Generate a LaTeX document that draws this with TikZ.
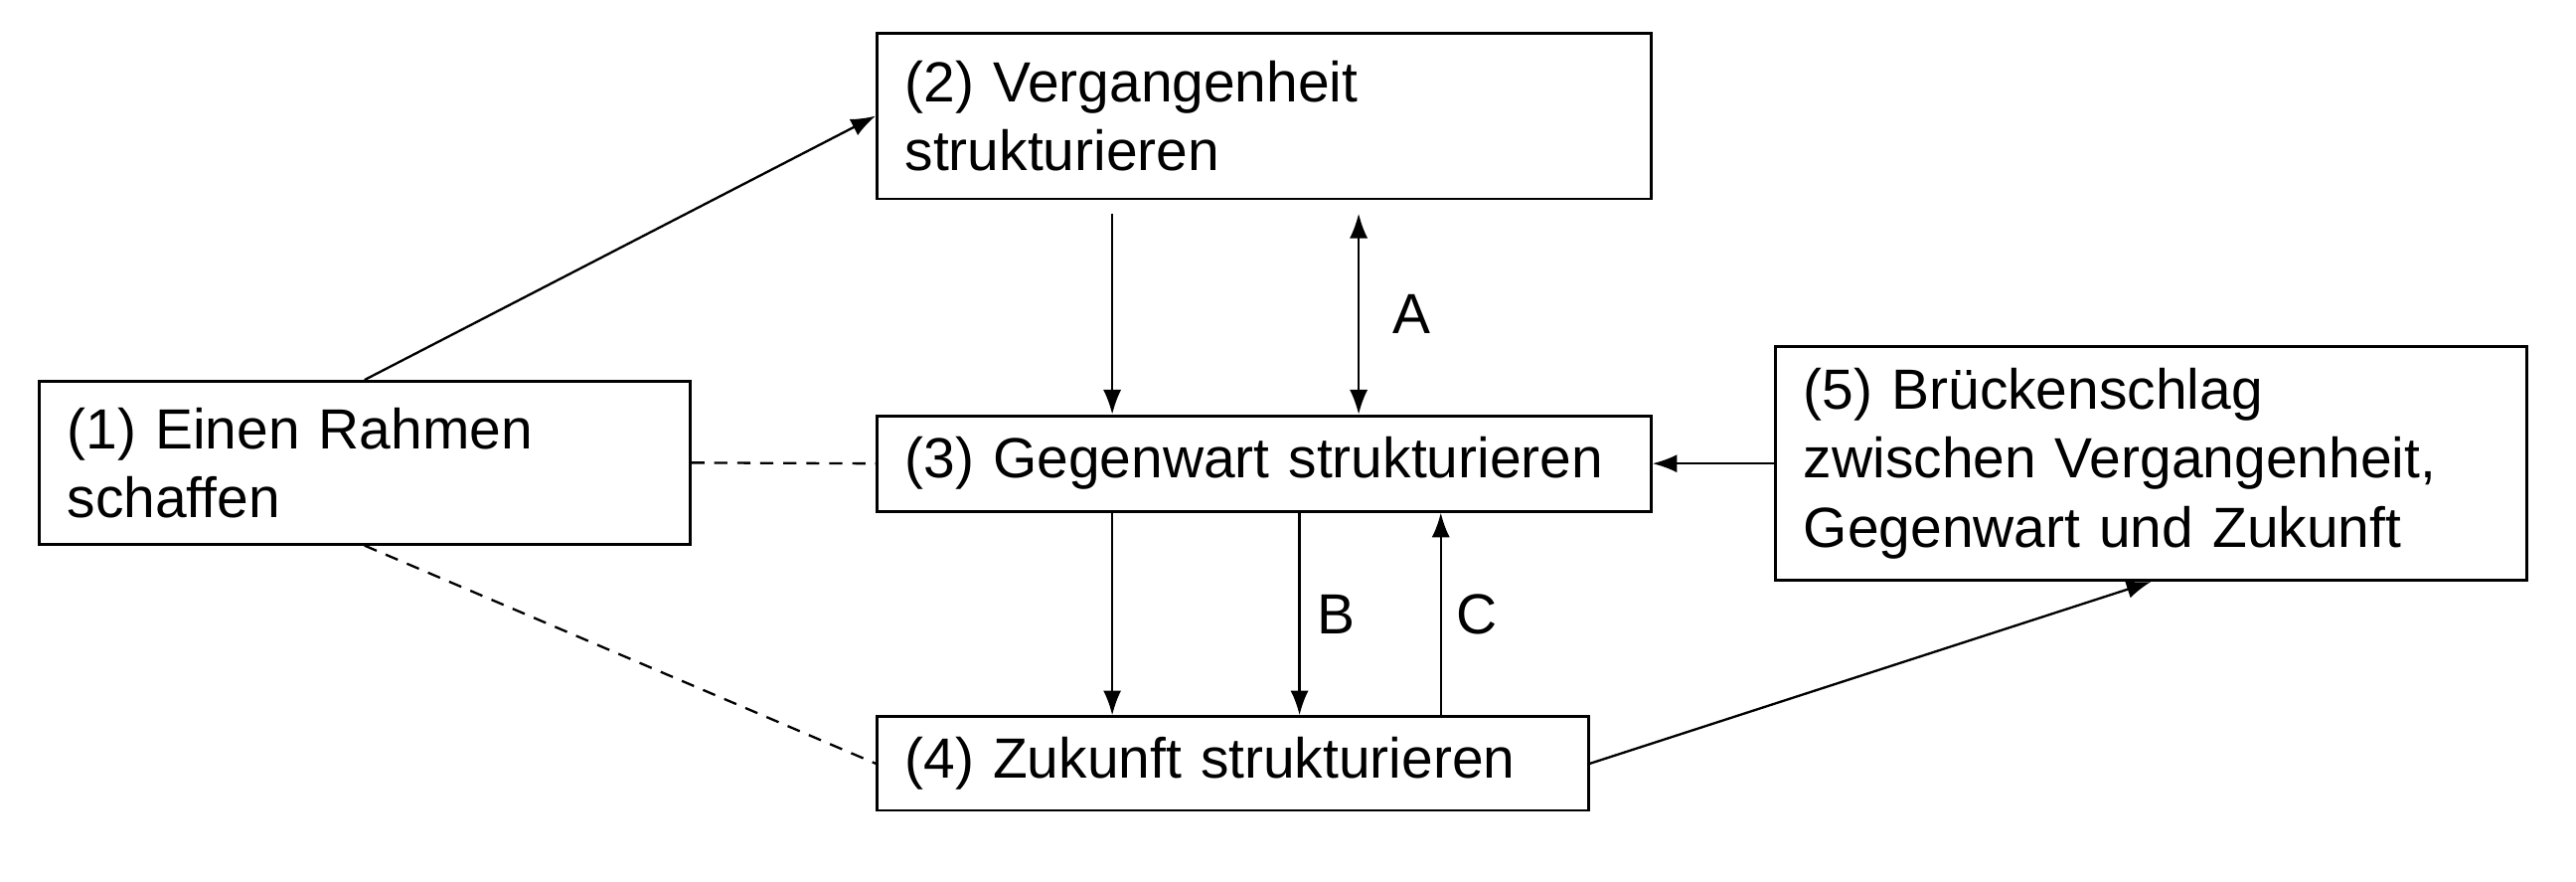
\documentclass[tikz,border=0pt]{standalone}
\usepackage{fontspec}
\setmainfont{Liberation Sans}
\usetikzlibrary{shapes,arrows.meta,positioning}
\def \gap {0.08cm}

\begin{document}
\begin{tikzpicture}[>={Latex[length=1.5mm,width=1.1mm]},
    box/.style={draw,rectangle,line width=0.5pt,anchor=west,align=left,inner xsep=0.17cm,inner ysep=0pt,
      font=\fontsize{9.8}{11.9}\selectfont},
    con/.style={line width=0.4pt},
    lbl/.style={inner sep=0pt,font=\fontsize{9.8}{11.9}\selectfont}]
    \useasboundingbox (0,0) rectangle (15.68,5.36);
    \node[box,text width=3.62cm,minimum height=0.99cm] (rahmen) at (0.23,2.545) {(1) Einen Rahmen\\schaffen};
    \node[box,text width=4.37cm,minimum height=1.01cm] (verg) at (5.33,4.655) {(2) Vergangenheit\\strukturieren};
    \node[box,text width=4.37cm,minimum height=0.58cm] (gegen) at (5.33,2.54) {(3) Gegenwart strukturieren};
    \node[box,text width=3.99cm,minimum height=0.57cm] (zuk) at (5.33,0.715) {(4) Zukunft strukturieren};
    \node[box,text width=4.23cm,minimum height=1.42cm] (bruecke) at (10.80,2.54) {(5) Brückenschlag\\zwischen Vergangenheit,\\Gegenwart und Zukunft};
    \draw[con,->] (rahmen.north) -- (verg.west);
    \draw[con,->] ([xshift=1.44cm,yshift=-\gap]verg.south west) -- ([xshift=1.44cm]gegen.north west);
    \draw[con,<->] ([xshift=2.94cm,yshift=-\gap]verg.south west) -- node[lbl,right=0.2cm] {A} ([xshift=2.94cm]gegen.north west);
    \draw[con,dashed,dash pattern=on 0.8mm off 0.6mm] (rahmen.east) -- (gegen.west);
    \draw[con,dashed,dash pattern=on 0.8mm off 0.6mm] (rahmen.south) -- (zuk.west);
    \draw[con,->] (bruecke.west) -- (gegen.east);
    \draw[con,->] ([xshift=1.44cm]gegen.south west) -- ([xshift=1.44cm]zuk.north west);
    \draw[con,->] ([xshift=2.58cm]gegen.south west) -- node[lbl,right=0.1cm] {B} ([xshift=2.58cm]zuk.north west);
    \draw[con,->] ([xshift=3.44cm]zuk.north west) -- node[lbl,right=0.09cm] {C} ([xshift=3.44cm]gegen.south west);
    \draw[con,->] (zuk.east) -- (bruecke.south);
  \end{tikzpicture}
\end{document}
